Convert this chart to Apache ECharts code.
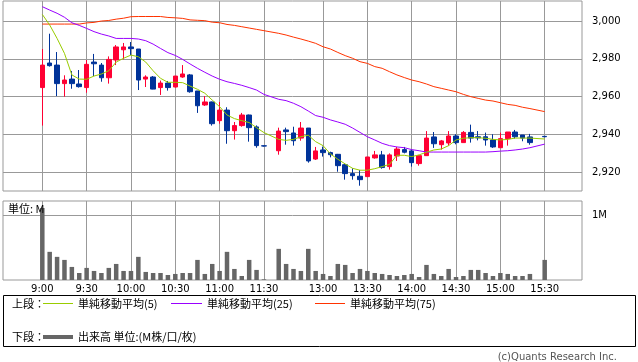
<!DOCTYPE html>
<html>
<head>
<meta charset="utf-8">
<script src="https://cdn.jsdelivr.net/npm/echarts@6/dist/echarts.min.js"></script>
<style>
html,body{margin:0;padding:0;background:#fff;}
#chart{width:638px;height:362px;}
</style>
</head>
<body>
<div id="chart"></div>
<script>
// 5-minute slots: 0 = 9:00 ... 30 = 11:30, 31 = lunch gap, 32 = 12:30 ... 68 = 15:30 (67 = closing auction gap)
const tickSlots  = [0, 6, 12, 18, 24, 30, 38, 44, 50, 56, 62, 68];
const tickLabels = ['9:00','9:30','10:00','10:30','11:00','11:30','13:00','13:30','14:00','14:30','15:00','15:30'];
const priceTicks = [2920, 2940, 2960, 2980, 3000];
const volumeTicks = [1];

const open = [2964.8,2977.8,2976.7,2966.9,2969.3,2966.7,2964.8,2978.3,2976.7,2970.0,
  2979.4,2984.8,2986.3,2985.2,2969.3,2970.4,2964.8,2967.2,2965.1,2970.4,
  2971.5,2963.0,2955.6,2957.2,2947.3,2952.9,2942.0,2944.7,2950.3,2944.0,
  2934.0,null,2931.4,2942.4,2940.8,2938.1,2943.4,2927.0,2931.8,2930.4,
  2929.5,2924.0,2919.3,2917.9,2917.7,2927.6,2929.2,2923.0,2928.6,2932.0,
  2931.3,2924.6,2928.8,2938.7,2934.6,2935.5,2939.2,2935.7,2941.1,2938.8,
  2938.8,2937.1,2933.0,2937.8,2941.3,2939.7,2938.7,null,2939.0];
const close = [2976.7,2976.4,2966.9,2968.8,2966.9,2965.3,2977.1,2977.4,2970.0,2979.7,
  2986.3,2986.3,2985.4,2968.8,2970.4,2964.0,2967.2,2964.8,2970.9,2972.0,
  2962.6,2955.2,2957.2,2945.7,2952.9,2942.0,2944.7,2950.3,2943.6,2934.1,
  2933.9,null,2941.8,2941.5,2936.7,2943.4,2926.0,2931.3,2930.4,2929.3,
  2923.5,2919.3,2918.2,2916.1,2928.1,2929.2,2922.5,2929.2,2932.3,2930.6,
  2925.1,2928.8,2938.1,2935.1,2936.6,2939.2,2935.7,2941.1,2938.1,2938.2,
  2937.1,2933.4,2937.8,2941.3,2938.8,2938.1,2935.7,null,2938.8];
const low = [2944.7,2975.9,2960.3,2960.0,2964.2,2964.8,2962.1,2970.9,2967.9,2966.9,
  2976.7,2979.7,2982.0,2963.5,2965.1,2963.9,2960.9,2963.2,2964.8,2970.0,
  2962.1,2951.4,2955.1,2944.7,2945.7,2935.1,2937.3,2944.1,2936.2,2933.0,
  2933.6,null,2929.3,2934.6,2934.1,2936.7,2925.1,2926.5,2928.3,2927.9,
  2920.3,2916.1,2916.1,2912.9,2917.7,2927.2,2921.9,2921.4,2926.0,2930.0,
  2923.0,2923.5,2928.8,2932.9,2932.0,2934.1,2934.8,2935.7,2935.7,2936.9,
  2934.1,2932.9,2933.0,2934.1,2937.8,2936.4,2934.6,null,2938.6];
const high = [2985.2,2993.3,2983.6,2971.3,2973.6,2974.1,2979.4,2982.6,2977.8,2981.3,
  2987.3,2988.4,2988.9,2985.2,2971.3,2970.9,2968.5,2968.3,2970.9,2976.7,
  2972.0,2963.0,2960.3,2957.4,2957.2,2954.4,2946.6,2951.4,2950.5,2944.8,
  2934.1,null,2943.6,2943.6,2944.1,2946.6,2943.4,2933.4,2933.6,2930.9,
  2929.7,2924.4,2922.1,2921.2,2928.1,2931.3,2931.3,2930.0,2933.4,2933.4,
  2932.0,2929.2,2941.8,2941.3,2937.1,2941.8,2940.1,2941.8,2945.2,2941.8,
  2941.0,2940.1,2941.0,2941.3,2942.4,2939.7,2940.3,null,2939.1];
const ma5 = [3003.5,2997.9,2990.8,2982.9,2971.5,2969.3,2969.2,2970.9,2972.0,2973.7,
  2978.3,2980.3,2982.0,2981.1,2978.3,2973.7,2969.7,2967.6,2967.6,2967.4,
  2965.6,2963.9,2961.8,2958.2,2954.7,2950.3,2948.4,2947.3,2946.3,2943.6,
  2941.0,null,2937.4,2936.9,2937.4,2938.8,2939.6,2936.2,2934.1,2929.7,
  2926.9,2924.4,2922.1,2921.1,2921.1,2921.9,2923.0,2924.2,2929.0,2929.0,
  2928.3,2929.2,2930.6,2931.8,2932.3,2934.1,2937.1,2938.0,2938.3,2938.3,
  2938.0,2937.4,2937.1,2937.4,2938.1,2938.1,2938.1,null,2937.6];
const ma25 = [3007.6,3005.8,3004.1,3002.0,2999.1,2997.7,2996.1,2994.4,2993.1,2992.1,
  2990.8,2990.8,2990.8,2990.5,2989.6,2987.8,2985.5,2983.3,2981.8,2979.7,
  2977.3,2975.0,2972.9,2970.9,2969.2,2967.9,2967.0,2966.0,2964.8,2963.5,
  2961.2,null,2958.6,2957.9,2956.5,2954.7,2952.4,2950.0,2949.1,2947.7,
  2946.6,2945.4,2943.4,2941.1,2938.8,2937.1,2935.3,2934.1,2933.4,2933.0,
  2932.0,2931.4,2930.7,2930.7,2930.7,2930.7,2930.7,2930.7,2930.7,2930.7,
  2930.7,2930.9,2931.2,2931.4,2931.8,2932.3,2933.0,null,2934.9];
const ma75 = [2998.4,2998.4,2998.4,2998.4,2998.4,2998.4,2999.0,2999.3,3000.0,3000.3,
  3001.0,3001.5,3002.3,3002.4,3002.4,3002.4,3002.4,3001.9,3001.7,3001.4,
  3000.6,3000.4,3000.2,2999.4,2999.1,2998.2,2997.7,2997.0,2996.3,2995.6,
  2994.9,null,2993.5,2992.6,2991.5,2990.5,2989.4,2988.2,2986.4,2985.2,
  2983.4,2981.7,2980.3,2978.5,2977.6,2975.9,2975.0,2973.2,2971.5,2970.1,
  2968.8,2967.9,2966.7,2965.3,2964.4,2963.5,2962.6,2961.2,2960.0,2959.1,
  2958.2,2957.7,2956.8,2955.9,2955.4,2954.4,2953.7,null,2952.1];
const volume = [1.108,0.433,0.356,0.309,0.201,0.108,0.186,0.139,0.108,0.186,
  0.247,0.139,0.139,0.356,0.124,0.108,0.108,0.077,0.093,0.108,
  0.108,0.309,0.093,0.247,0.139,0.433,0.170,0.062,0.309,0.155,
  0.010,null,0.479,0.247,0.170,0.139,0.479,0.139,0.093,0.062,
  0.247,0.232,0.108,0.170,0.139,0.108,0.093,0.077,0.062,0.077,
  0.093,0.046,0.232,0.093,0.062,0.170,0.046,0.062,0.155,0.155,
  0.108,0.062,0.108,0.093,0.062,0.062,0.093,null,0.309];

const X_MIN = -5.32, X_MAX = 73.05;
const UP = '#ff0033', DOWN = '#003399', GRID = '#999999';

const candles = [];
open.forEach((o, i) => { if (o != null) candles.push([i, o, close[i], low[i], high[i]]); });
const pairs = arr => arr.map((v, i) => [i, v]).filter(p => p[1] != null);

const labelFont = {fontFamily: 'DejaVu Sans', fontSize: 10, color: '#000'};
const cjk = '"Noto Sans CJK JP"';

const chart = echarts.init(document.getElementById('chart'), null, {renderer: 'canvas'});
chart.setOption({
  animation: false,
  backgroundColor: '#fff',
  grid: [
    {left: 3, top: 1, width: 579, height: 190, show: true, borderColor: GRID, borderWidth: 1, backgroundColor: 'transparent'},
    {left: 3, top: 201, width: 579, height: 79, show: true, borderColor: GRID, borderWidth: 1, backgroundColor: 'transparent'}
  ],
  xAxis: [
    {type: 'value', gridIndex: 0, min: X_MIN, max: X_MAX,
     axisLine: {show: false}, axisTick: {show: false, customValues: tickSlots},
     axisLabel: {show: false, customValues: tickSlots},
     splitLine: {show: true, lineStyle: {color: GRID, width: 1}}},
    {type: 'value', gridIndex: 1, min: X_MIN, max: X_MAX,
     axisLine: {show: false}, axisTick: {show: false, customValues: tickSlots},
     axisLabel: Object.assign({show: true, customValues: tickSlots, margin: 4,
       formatter: v => tickLabels[tickSlots.indexOf(Math.round(v))] || ''}, labelFont),
     splitLine: {show: true, lineStyle: {color: GRID, width: 1}}}
  ],
  yAxis: [
    {type: 'value', gridIndex: 0, position: 'right', min: 2910.1, max: 3010.6, scale: true,
     axisLine: {show: false},
     axisTick: {show: true, length: 6, customValues: priceTicks, lineStyle: {color: GRID}},
     axisLabel: Object.assign({customValues: priceTicks, margin: 10,
       formatter: v => Math.round(v).toLocaleString('en-US')}, labelFont),
     splitLine: {show: true, lineStyle: {color: GRID, width: 1}}},
    {type: 'value', gridIndex: 1, position: 'right', min: 0, max: 1.215,
     axisLine: {show: false},
     axisTick: {show: true, length: 6, customValues: volumeTicks, lineStyle: {color: GRID}},
     axisLabel: Object.assign({customValues: volumeTicks, margin: 10,
       formatter: v => Math.round(v) + 'M'}, labelFont),
     splitLine: {show: true, lineStyle: {color: GRID, width: 1}}}
  ],
  series: [
    {type: 'candlestick', xAxisIndex: 0, yAxisIndex: 0, barWidth: 5,
     dimensions: ['slot', 'open', 'close', 'lowest', 'highest'],
     encode: {x: 'slot', y: ['open', 'close', 'lowest', 'highest']},
     data: candles,
     itemStyle: {color: UP, color0: DOWN, borderColor: UP, borderColor0: DOWN, borderWidth: 1}},
    {type: 'line', xAxisIndex: 0, yAxisIndex: 0, data: pairs(ma75), showSymbol: false,
     lineStyle: {color: '#ff3300', width: 1}},
    {type: 'line', xAxisIndex: 0, yAxisIndex: 0, data: pairs(ma25), showSymbol: false,
     lineStyle: {color: '#9900ff', width: 1}},
    {type: 'line', xAxisIndex: 0, yAxisIndex: 0, data: pairs(ma5), showSymbol: false,
     lineStyle: {color: '#99cc00', width: 1}},
    {type: 'bar', xAxisIndex: 1, yAxisIndex: 1, data: pairs(volume), barWidth: 4.5,
     itemStyle: {color: '#666666'}}
  ],
  graphic: [
    {type: 'text', x: 8, y: 209, z: 100, style: {text: '単位: M', font: '11px ' + cjk, fill: '#000', verticalAlign: 'middle'}},
    {type: 'rect', shape: {x: 3.5, y: 295.5, width: 632, height: 51}, style: {fill: 'none', stroke: '#000', lineWidth: 1}},
    {type: 'text', x: 12, y: 303.5, style: {text: '上段：', font: '11px ' + cjk, fill: '#000', verticalAlign: 'middle'}},
    {type: 'line', shape: {x1: 43, y1: 303.5, x2: 73, y2: 303.5}, style: {stroke: '#99cc00', lineWidth: 1}},
    {type: 'text', x: 78, y: 303.5, style: {text: '単純移動平均(5)', font: '11px ' + cjk, fill: '#000', verticalAlign: 'middle'}},
    {type: 'line', shape: {x1: 171, y1: 303.5, x2: 202, y2: 303.5}, style: {stroke: '#9900ff', lineWidth: 1}},
    {type: 'text', x: 207, y: 303.5, style: {text: '単純移動平均(25)', font: '11px ' + cjk, fill: '#000', verticalAlign: 'middle'}},
    {type: 'line', shape: {x1: 315, y1: 303.5, x2: 345, y2: 303.5}, style: {stroke: '#ff3300', lineWidth: 1}},
    {type: 'text', x: 350, y: 303.5, style: {text: '単純移動平均(75)', font: '11px ' + cjk, fill: '#000', verticalAlign: 'middle'}},
    {type: 'text', x: 12, y: 337, style: {text: '下段：', font: '11px ' + cjk, fill: '#000', verticalAlign: 'middle'}},
    {type: 'line', shape: {x1: 43, y1: 337, x2: 73, y2: 337}, style: {stroke: '#666666', lineWidth: 4}},
    {type: 'text', x: 78, y: 337, style: {text: '出来高 単位:(M株/口/枚)', font: '11px ' + cjk, fill: '#000', verticalAlign: 'middle'}},
    {type: 'text', x: 617, y: 357.5, style: {text: '(c)Quants Research Inc.', font: '10px "DejaVu Sans"', fill: '#555', align: 'right', verticalAlign: 'middle'}}
  ]
});
</script>
</body>
</html>
